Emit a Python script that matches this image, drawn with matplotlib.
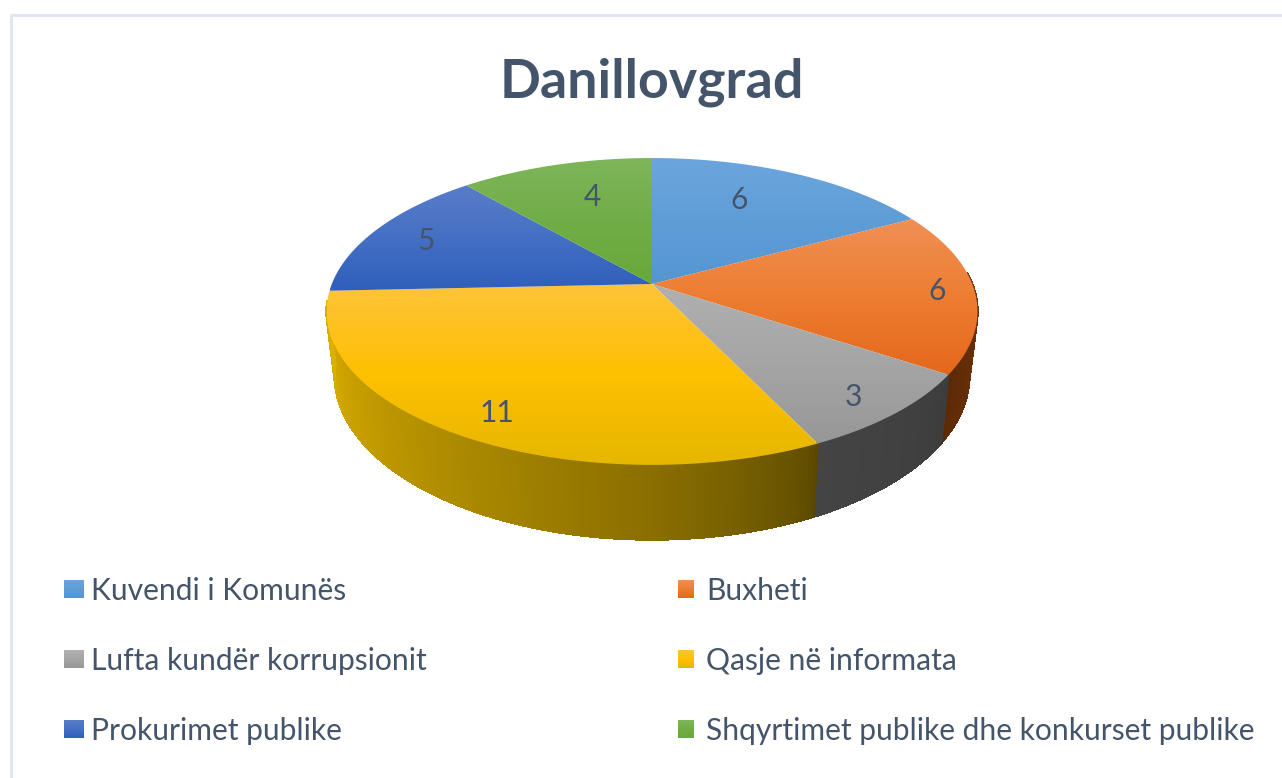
#!/usr/bin/python
# -*- coding: utf-8 -*-
"""
Description: Danillovgrad, tilted pie with a side wall
"""
import numpy as np
import matplotlib
matplotlib.use("Agg")
import matplotlib.pyplot as plt
from matplotlib.collections import PolyCollection
from matplotlib.colors import LinearSegmentedColormap, to_rgb
from matplotlib.patches import Polygon

#---------------------DATA------------------------
title = "Danillovgrad"
categories = ["Kuvendi i Komunës", "Buxheti", "Lufta kundër korrupsionit",
              "Qasje në informata", "Prokurimet publike",
              "Shqyrtimet publike dhe konkurset publike"]
values = [6, 6, 3, 11, 5, 4]
#-------------------------------------------------

#---------------------STYLE-----------------------
plt.rcParams['font.family'] = ['Lato', 'DejaVu Sans']
text_color = "#44546A"
frame_color = "#E1E6F0"

# colours down each slice: top, middle, bottom
top_colors = [["#6CA5DD", "#5F9DD7", "#5596D2"],
              ["#F08F55", "#ED7D31", "#E4681B"],
              ["#B0B0B0", "#A5A5A5", "#979797"],
              ["#FDC43A", "#FFC000", "#E5B700"],
              ["#5A7CC8", "#4470C4", "#2F5FBC"],
              ["#7EB65A", "#70AD47", "#68A93A"]]
# colours round the side wall, start to end of the slice
side_colors = [["#2E5F8E", "#2E5F8E"],
               ["#7A3A10", "#5E2A06"],
               ["#3C3C3C", "#444444"],
               ["#5A4800", "#DCB000"],
               ["#223F7A", "#223F7A"],
               ["#3E6A24", "#3E6A24"]]

# pie geometry in pixels: tilted disc seen in perspective
apex_x, apex_y = 652.0, 284.0
disc_a, disc_b, disc_k = 320.2, 148.5, 0.179
wall_sx, wall_sy, wall_y = 0.975, 1.07, 346.0
# part of the rim where the wall can be seen, radians from 12 o'clock
wall_from, wall_to = 1.5, 4.6

label_pos = [(739, 200), (937, 291), (853, 397), (497, 413), (426, 241), (592, 197)]
legend_rows = [589, 659, 729]
legend_cols = [(64, 84, 91), (678, 694, 706)]
#-------------------------------------------------


def top_point(theta):
    # theta clockwise from 12 o'clock, radians
    x, y = np.sin(theta), np.cos(theta)
    w = 1 + disc_k * y
    return apex_x + disc_a * x / w, apex_y - disc_b * y / w


def wall_point(theta):
    x, y = np.sin(theta), np.cos(theta)
    w = 1 + disc_k * y
    return apex_x + wall_sx * disc_a * x / w, wall_y - wall_sy * disc_b * y / w


def fill_gradient(ax, patch, colors, x0, x1, y0, y1):
    ax.add_patch(patch)
    cmap = LinearSegmentedColormap.from_list("g", colors)
    grad = np.linspace(0, 1, 128).reshape(-1, 1)
    im = ax.imshow(grad, cmap=cmap, extent=(x0, x1, y1, y0), aspect="auto",
                   interpolation="bilinear", zorder=patch.get_zorder())
    im.set_clip_path(patch)


#------------Figure Layout--------------
fig = plt.figure(figsize=(12.82, 7.78), dpi=100)
ax = fig.add_axes([0, 0, 1, 1])
ax.axis("off")

edges = np.cumsum([0] + values) / float(sum(values)) * 2 * np.pi

#PLOT
# side wall first, the top face covers whatever sits behind it
for i in range(len(values)):
    a0, a1 = max(edges[i], wall_from), min(edges[i + 1], wall_to)
    if a0 >= a1:
        continue
    tt = np.linspace(a0, a1, 200)
    quads, cols = [], []
    c0, c1 = np.array(to_rgb(side_colors[i][0])), np.array(to_rgb(side_colors[i][1]))
    for j in range(len(tt) - 1):
        quads.append([top_point(tt[j]), top_point(tt[j + 1]),
                      wall_point(tt[j + 1]), wall_point(tt[j])])
        f = (j / float(len(tt) - 2)) ** 0.7
        cols.append(c0 + (c1 - c0) * f)
    ax.add_collection(PolyCollection(quads, facecolors=cols, edgecolors=cols,
                                     linewidths=1.0, antialiaseds=False, zorder=2))

# top face
for i in range(len(values)):
    tt = np.linspace(edges[i], edges[i + 1], 200)
    rim = np.array([top_point(t) for t in tt])
    pts = np.vstack([[apex_x, apex_y], rim])
    patch = Polygon(pts, closed=True, facecolor="none", edgecolor="none", zorder=3)
    fill_gradient(ax, patch, top_colors[i], pts[:, 0].min(), pts[:, 0].max(),
                  pts[:, 1].min(), pts[:, 1].max())

# slice numbers
for i in range(len(values)):
    ax.text(label_pos[i][0], label_pos[i][1], str(values[i]), color=text_color,
            fontsize=21.5, ha="center", va="center", zorder=5)

#-------------------------GRAPHICS
ax.text(652, 82, title, color=text_color, fontsize=38.7, fontweight="bold",
        ha="center", va="center", zorder=5)

# legend, two columns filled row by row
for i in range(len(categories)):
    col = legend_cols[i % 2]
    yc = legend_rows[i // 2]
    box = Polygon([(col[0], yc - 9), (col[1], yc - 9), (col[1], yc + 9), (col[0], yc + 9)],
                  closed=True, facecolor="none", edgecolor="none", zorder=3)
    fill_gradient(ax, box, top_colors[i], col[0], col[1], yc - 9, yc + 9)
    ax.text(col[2], yc + 2, categories[i], color=text_color, fontsize=21.6,
            ha="left", va="center", zorder=5)

# frame only shows on the left and the top
ax.plot([11, 11, 1282], [778, 15, 15], color=frame_color, linewidth=2.2, zorder=1)

ax.set_xlim(0, 1282)
ax.set_ylim(778, 0)

#SAVING
fig.savefig("out.png", dpi=100, facecolor="white")
